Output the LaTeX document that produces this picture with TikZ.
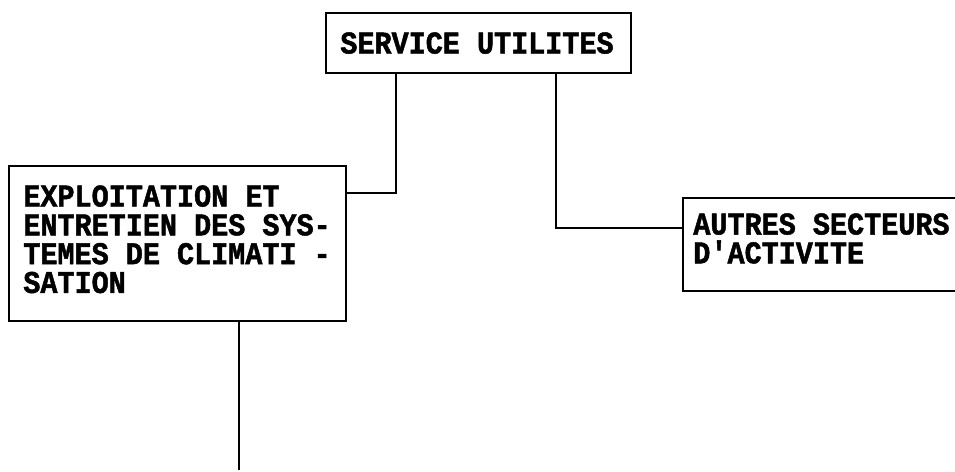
\documentclass[tikz,border=0pt]{standalone}
\usepackage{fontspec}
\newfontfamily\boxfont[FakeStretch=0.9, BoldFeatures={FakeBold=1.5}]{Liberation Mono}
\usetikzlibrary{calc}
\begin{document}
\begin{tikzpicture}[x=0.02cm, y=0.02cm,
  box/.style={draw, line width=1.1pt, inner sep=0pt, anchor=north west},
  txt/.style={font=\boxfont\bfseries\fontsize{18}{16.4}\selectfont, inner sep=0pt, anchor=north west, align=left},
  wire/.style={line width=1.6pt}
]
\useasboundingbox (0,0) rectangle (955,471);
\clip (0,0) rectangle (955,471);

\node[box, minimum width=6.1cm, minimum height=1.2cm] (svc) at (325, 459) {};
\node[box, minimum width=6.74cm, minimum height=3.1cm] (expl) at (8, 306) {};
\node[box, minimum width=6cm, minimum height=1.86cm] (autres) at (682, 274) {};

\node[txt] (svctxt) at ($(svc.north west)+(15,-20)$) {SERVICE UTILITES};
\node[txt] (expltxt) at ($(expl.north west)+(15,-20)$)
  {EXPLOITATION ET\\ENTRETIEN DES SYS-\\TEMES DE CLIMATI -\\SATION};
\node[txt] (autrestxt) at ($(autres.north west)+(11,-16)$)
  {AUTRES SECTEURS\\D'ACTIVITE};

% connectors
\coordinate (j1) at (396, 278);
\coordinate (j2) at (556, 243);
\coordinate (e) at (239, 1);
\draw[wire] (svc.south -| j1) -- (j1) -- (expl.east |- j1);
\draw[wire] (svc.south -| j2) -- (j2) -- (autres.west |- j2);
\draw[wire] (expl.south -| e) -- (e);
\end{tikzpicture}
\end{document}
